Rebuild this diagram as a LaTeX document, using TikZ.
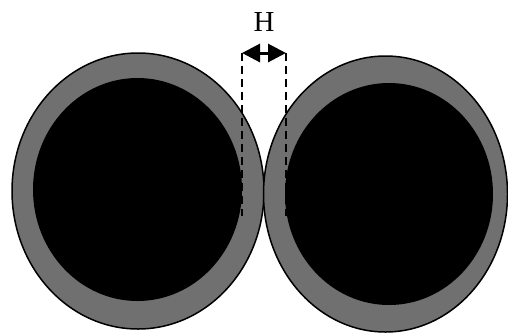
\documentclass[tikz,border=0pt]{standalone}
\usepackage{fontspec}
\setmainfont{Liberation Serif}
\usepackage{xcolor}
\usepackage{tikz}
\usetikzlibrary{positioning,arrows.meta,calc}
\definecolor{shellgray}{RGB}{112,112,112}
\tikzset{
  shell/.style={draw=black, line width=1.5pt, fill=shellgray},
  core/.style={fill=black},
  gapline/.style={dashed, dash pattern=on 8pt off 5pt, line width=2.6pt},
  gaparrow/.style={{Triangle[length=18pt,width=18pt]}-{Triangle[length=18pt,width=18pt]}, line width=3pt},
  gaplbl/.style={font=\fontsize{29}{32}\selectfont, inner sep=0pt}
}

\begin{document}
\begin{tikzpicture}[x=1pt, y=-1pt]
\useasboundingbox (0,0) rectangle (508,333);
% left particle
\draw[shell] (138,191) ellipse [x radius=126, y radius=138];
\fill[core] (137.5,189.5) ellipse [x radius=104.5, y radius=111.5];
% right particle
\draw[shell] (385.5,194) ellipse [x radius=122, y radius=138];
\fill[core] (389,194) ellipse [x radius=104, y radius=111];
% gap
\coordinate (gl) at (242,53);
\coordinate (gr) at (286,53);
\coordinate (glb) at (242,216);
\coordinate (grb) at (286,216);
\draw[gapline] (gl) -- (glb);
\draw[gapline] (gr) -- (grb);
\draw[gaparrow] (gl) -- (gr);
\node[gaplbl] (hlbl) at ($(gl)!0.5!(gr)+(0,-31)$) {H};
\end{tikzpicture}
\end{document}
